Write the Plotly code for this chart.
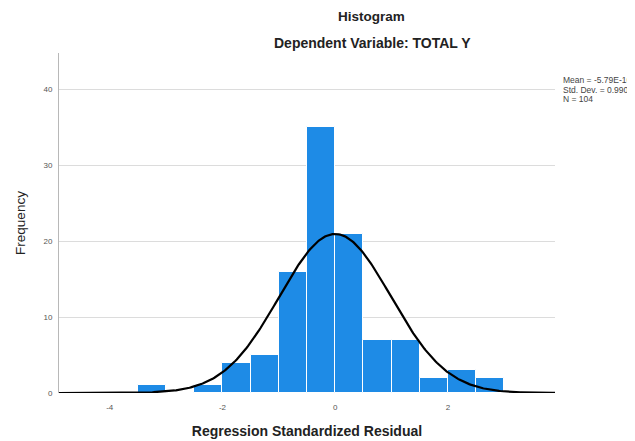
import numpy as np
import plotly.graph_objects as go

# Data
bin_starts = [-3.5, -2.5, -2.0, -1.5, -1.0, -0.5, 0.0, 0.5, 1.0, 1.5, 2.0, 2.5]
counts = [1, 1, 4, 5, 16, 35, 21, 7, 7, 2, 3, 2]
bin_width = 0.5
stat_mean = -5.79e-16
stat_sd = 0.990
stat_n = 104
legend_lines = ["Mean = -5.79E-16", "Std. Dev. = 0.990", "N = 104"]
x_ticks = [-4, -2, 0, 2]
y_ticks = [0, 10, 20, 30, 40]

x_range = [-4.9, 3.9]
y_range = [0, 44.8]

# Normal curve from the reported statistics
xs = np.linspace(x_range[0], x_range[1], 400)
ys = stat_n * bin_width / (stat_sd * np.sqrt(2 * np.pi)) * np.exp(-0.5 * ((xs - stat_mean) / stat_sd) ** 2)

FONT = "Liberation Sans, Arial, sans-serif"

fig = go.Figure()
fig.add_trace(go.Bar(
    x=bin_starts, y=counts, width=bin_width, offset=0,
    marker=dict(color="#1E8BE6", line=dict(color="white", width=1)),
    hoverinfo="skip", showlegend=False,
))
fig.add_trace(go.Scatter(
    x=xs, y=ys, mode="lines",
    line=dict(color="black", width=2.2),
    hoverinfo="skip", showlegend=False,
))

# target plot area in page pixels
L, R, T, B = 53, 555, 53, 393
PW, PH = R - L, B - T

def px_x(p):
    return (p - L) / PW

def px_y(p):
    return (B - p) / PH

annotations = [
    dict(text="<b>Histogram</b>", x=px_x(369), y=px_y(17),
         font=dict(size=13.5, color="#222", family=FONT)),
    dict(text="<b>Dependent Variable: TOTAL Y</b>", x=px_x(370), y=px_y(43),
         font=dict(size=14, color="#222", family=FONT)),
]
for a in annotations:
    a.update(xref="paper", yref="paper", xanchor="center", yanchor="middle", showarrow=False)

legend_y_px = [80, 90, 99]
for txt, py in zip(legend_lines, legend_y_px):
    annotations.append(dict(
        text=txt, x=px_x(561), xref="paper", xanchor="left",
        y=px_y(py), yref="paper", yanchor="middle",
        showarrow=False, font=dict(size=8.5, color="#444", family=FONT),
    ))

# page body has an 8px margin
OFF = 8
fig.update_layout(
    width=635, height=441,
    margin=dict(l=L - OFF, r=635 + OFF - R, t=T - OFF, b=441 + OFF - B),
    paper_bgcolor="white", plot_bgcolor="white",
    font=dict(family=FONT, color="#333"),
    bargap=0,
    annotations=annotations,
    xaxis=dict(
        range=x_range, tickvals=x_ticks, ticktext=[str(v) for v in x_ticks],
        showgrid=False, zeroline=False, showline=False,
        ticks="", tickfont=dict(size=8, color="#555"), ticklabelstandoff=8,
        title=dict(text="<b>Regression Standardized Residual</b>",
                   font=dict(size=14, color="#222", family=FONT), standoff=15),
    ),
    yaxis=dict(
        range=y_range, tickvals=y_ticks, ticktext=[str(v) for v in y_ticks],
        showgrid=True, gridcolor="#dcdcdc", gridwidth=1,
        zeroline=False, showline=True, linecolor="#b8b8b8", linewidth=1,
        ticks="", tickfont=dict(size=8, color="#555"), ticklabelstandoff=4,
        title=dict(text="Frequency", font=dict(size=13.5, color="#222", family=FONT), standoff=14),
    ),
)

fig.write_html("out.html")
